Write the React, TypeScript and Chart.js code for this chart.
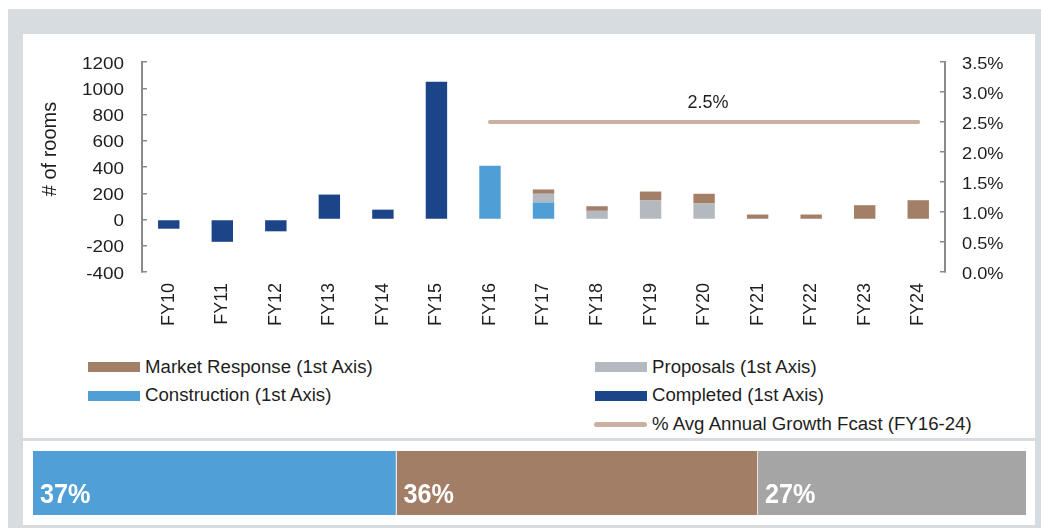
import React, { useEffect, useRef } from "react";
import { Chart, registerables } from "chart.js";

Chart.register(...registerables);

// ---------- data ----------
const categories = ["FY10", "FY11", "FY12", "FY13", "FY14", "FY15", "FY16", "FY17", "FY18", "FY19", "FY20", "FY21", "FY22", "FY23", "FY24"];
const completed = [-70, -170, -90, 190, 75, 1050, null, null, null, null, null, null, null, null, null];
const construction = [null, null, null, null, null, null, 410, 130, null, null, null, null, null, null, null];
const proposals = [null, null, null, null, null, null, null, 66, 66, 145, 122, null, null, null, null];
const marketResponse = [null, null, null, null, null, null, null, 33, 35, 68, 74, 38, 38, 109, 147];
const avgGrowth = [null, null, null, null, null, null, 0.025, 0.025, 0.025, 0.025, 0.025, 0.025, 0.025, 0.025, 0.025];
const growthLabel = "2.5%";

const leftTicks = [-400, -200, 0, 200, 400, 600, 800, 1000, 1200];
const rightTicks = [0, 0.005, 0.01, 0.015, 0.02, 0.025, 0.03, 0.035];
const rightTickLabels = ["0.0%", "0.5%", "1.0%", "1.5%", "2.0%", "2.5%", "3.0%", "3.5%"];

const yTitle = "# of rooms";
const seriesNames = {
  market: "Market Response (1st Axis)",
  proposals: "Proposals (1st Axis)",
  construction: "Construction (1st Axis)",
  completed: "Completed (1st Axis)",
  growth: "% Avg Annual Growth Fcast (FY16-24)",
};

const shareValues = [36.6, 36.4, 27.0];
const shareLabels = shareValues.map((v) => `${Math.round(v)}%`);

// ---------- styles ----------
const C_COMPLETED = "#1c4489";
const C_CONSTRUCTION = "#4f9fd6";
const C_PROPOSALS = "#b3b9bf";
const C_MARKET = "#a47f68";
const C_LINE = "#c9b0a0";
const C_AXIS = "#8a8a8a";
const C_TEXT = "#1e1e1e";
const FONT = '"Liberation Sans", Arial, Helvetica, sans-serif';
const shareColors = ["#519fd7", "#a37e67", "#a5a5a5"];

const textPlugin = {
  id: "customText",
  afterDraw(chart: any) {
    const { ctx, scales } = chart;
    const x = scales.x;
    const y = scales.y;
    const y1 = scales.y1;
    ctx.save();
    ctx.fillStyle = C_TEXT;
    ctx.textBaseline = "alphabetic";
    ctx.font = `16px ${FONT}`;
    y.ticks.forEach((t: any, i: number) => {
      const py = y.getPixelForTick(i);
      ctx.save();
      ctx.translate(y.right - 18, py + 6.5);
      ctx.scale(1.18, 1);
      ctx.textAlign = "right";
      ctx.fillText(String(leftTicks[i]), 0, 0);
      ctx.restore();
    });
    y1.ticks.forEach((t: any, i: number) => {
      const py = y1.getPixelForTick(i);
      ctx.save();
      ctx.translate(y1.left + 17, py + 6.5);
      ctx.scale(1.14, 1);
      ctx.textAlign = "left";
      ctx.fillText(rightTickLabels[i], 0, 0);
      ctx.restore();
    });
    // y title
    ctx.save();
    ctx.font = `20px ${FONT}`;
    ctx.translate(33, 115);
    ctx.rotate(-Math.PI / 2);
    ctx.textAlign = "center";
    ctx.fillText(yTitle, 0, 0);
    ctx.restore();
    // growth label
    const idx = avgGrowth.map((v, i) => (v == null ? -1 : i)).filter((i) => i >= 0);
    const first = idx[0];
    const last = idx[idx.length - 1];
    const px = (x.getPixelForValue(first) + x.getPixelForValue(last)) / 2 + 4;
    const py = y1.getPixelForValue(avgGrowth[last] as number) - 14.5;
    ctx.font = `18px ${FONT}`;
    ctx.textAlign = "center";
    ctx.fillText(growthLabel, px, py);
    ctx.restore();
  },
};

const stripLabelPlugin = {
  id: "stripLabels",
  afterDatasetsDraw(chart: any) {
    const { ctx } = chart;
    ctx.save();
    ctx.fillStyle = "#ffffff";
    ctx.font = `bold 28px ${FONT}`;
    ctx.textBaseline = "alphabetic";
    ctx.textAlign = "left";
    chart.data.datasets.forEach((_: any, i: number) => {
      const el = chart.getDatasetMeta(i).data[0];
      const left = Math.min(el.x, el.base);
      ctx.save();
      ctx.translate(left + 7, 51.7);
      ctx.scale(0.9, 1);
      ctx.fillText(shareLabels[i], 0, 0);
      ctx.restore();
    });
    ctx.restore();
  },
};

export default function App() {
  const mainRef = useRef<HTMLCanvasElement>(null);
  const stripRef = useRef<HTMLCanvasElement>(null);

  useEffect(() => {
    const barCommon = {
      type: "bar" as const,
      stack: "s",
      yAxisID: "y",
      barPercentage: 0.5,
      categoryPercentage: 0.8,
      borderWidth: 0,
      order: 1,
    };
    const main = new Chart(mainRef.current!, {
      type: "bar",
      data: {
        labels: categories,
        datasets: [
          { ...barCommon, label: seriesNames.completed, data: completed, backgroundColor: C_COMPLETED },
          { ...barCommon, label: seriesNames.construction, data: construction, backgroundColor: C_CONSTRUCTION },
          { ...barCommon, label: seriesNames.proposals, data: proposals, backgroundColor: C_PROPOSALS },
          { ...barCommon, label: seriesNames.market, data: marketResponse, backgroundColor: C_MARKET },
          {
            type: "line",
            label: seriesNames.growth,
            data: avgGrowth,
            yAxisID: "y1",
            borderColor: C_LINE,
            backgroundColor: C_LINE,
            borderWidth: 4,
            borderCapStyle: "round",
            pointRadius: 0,
            fill: false,
            order: 0,
          } as any,
        ],
      },
      options: {
        animation: false,
        responsive: false,
        layout: { padding: { top: 28, left: 0, right: 0, bottom: 0 } },
        plugins: { legend: { display: false }, tooltip: { enabled: false } },
        scales: {
          x: {
            stacked: true,
            grid: { display: false, drawTicks: false },
            border: { display: false },
            ticks: {
              autoSkip: false,
              maxRotation: 90,
              minRotation: 90,
              padding: 11,
              color: C_TEXT,
              font: { family: FONT, size: 18 },
            },
            afterFit: (s: any) => {
              s.height = 68;
            },
          },
          y: {
            position: "left",
            stacked: true,
            min: -400,
            max: 1200,
            afterBuildTicks: (s: any) => {
              s.ticks = leftTicks.map((v) => ({ value: v }));
            },
            ticks: { display: false },
            grid: { drawOnChartArea: false, drawTicks: true, tickLength: -5, color: C_AXIS, lineWidth: 1.5 },
            border: { color: C_AXIS, width: 2 },
            afterFit: (s: any) => {
              s.width = 119;
            },
          },
          y1: {
            position: "right",
            min: 0,
            max: 0.035,
            afterBuildTicks: (s: any) => {
              s.ticks = rightTicks.map((v) => ({ value: v }));
            },
            ticks: { display: false },
            grid: { drawOnChartArea: false, drawTicks: true, tickLength: -5, color: C_AXIS, lineWidth: 1.5 },
            border: { color: C_AXIS, width: 2 },
            afterFit: (s: any) => {
              s.width = 90;
            },
          },
        },
      } as any,
      plugins: [textPlugin],
    });

    const strip = new Chart(stripRef.current!, {
      type: "bar",
      data: {
        labels: [""],
        datasets: shareValues.map((v, i) => ({
          data: [v],
          backgroundColor: shareColors[i],
          borderColor: "#ffffff",
          borderWidth: { left: 0, top: 0, bottom: 0, right: i < shareValues.length - 1 ? 1 : 0 },
          borderSkipped: false,
          barPercentage: 1,
          categoryPercentage: 1,
        })) as any,
      },
      options: {
        animation: false,
        responsive: false,
        indexAxis: "y",
        layout: { padding: 0 },
        plugins: { legend: { display: false }, tooltip: { enabled: false } },
        scales: {
          x: { stacked: true, min: 0, max: 100, display: false },
          y: { stacked: true, display: false },
        },
      } as any,
      plugins: [stripLabelPlugin],
    });

    return () => {
      main.destroy();
      strip.destroy();
    };
  }, []);

  const legendText = (text: string, left: number, top: number) => (
    <div
      style={{
        position: "absolute",
        left,
        top,
        fontFamily: FONT,
        fontSize: 18,
        lineHeight: "20px",
        color: C_TEXT,
        whiteSpace: "nowrap",
        transform: "scaleX(1.035)",
        transformOrigin: "left center",
      }}
    >
      {text}
    </div>
  );
  const swatch = (color: string, left: number, top: number) => (
    <div style={{ position: "absolute", left, top, width: 52, height: 10, background: color }} />
  );

  return (
    <div style={{ position: "fixed", left: 0, top: 0, width: 1041, height: 528, background: "#ffffff", overflow: "hidden" }}>
      <div style={{ position: "absolute", left: 8, top: 9, width: 1033, height: 519, background: "#d6dce0" }} />
      <div style={{ position: "absolute", left: 23, top: 34, width: 1012, height: 404, background: "#ffffff" }} />
      <div style={{ position: "absolute", left: 23, top: 441, width: 1012, height: 84, background: "#ffffff" }} />
      <canvas
        ref={mainRef}
        width={1012}
        height={306}
        style={{ position: "absolute", left: 23, top: 34, width: 1012, height: 306, display: "block" }}
      />
      {swatch(C_MARKET, 88, 362)}
      {legendText(seriesNames.market, 145, 357)}
      {swatch(C_PROPOSALS, 595, 362)}
      {legendText(seriesNames.proposals, 652, 357)}
      {swatch(C_CONSTRUCTION, 88, 391)}
      {legendText(seriesNames.construction, 145, 385)}
      {swatch(C_COMPLETED, 595, 391)}
      {legendText(seriesNames.completed, 652, 385)}
      <div style={{ position: "absolute", left: 594, top: 421.5, width: 53, height: 5, borderRadius: 3, background: C_LINE }} />
      {legendText(seriesNames.growth, 652, 413.5)}
      <canvas
        ref={stripRef}
        width={993}
        height={64}
        style={{ position: "absolute", left: 33, top: 451, width: 993, height: 64, display: "block" }}
      />
    </div>
  );
}
